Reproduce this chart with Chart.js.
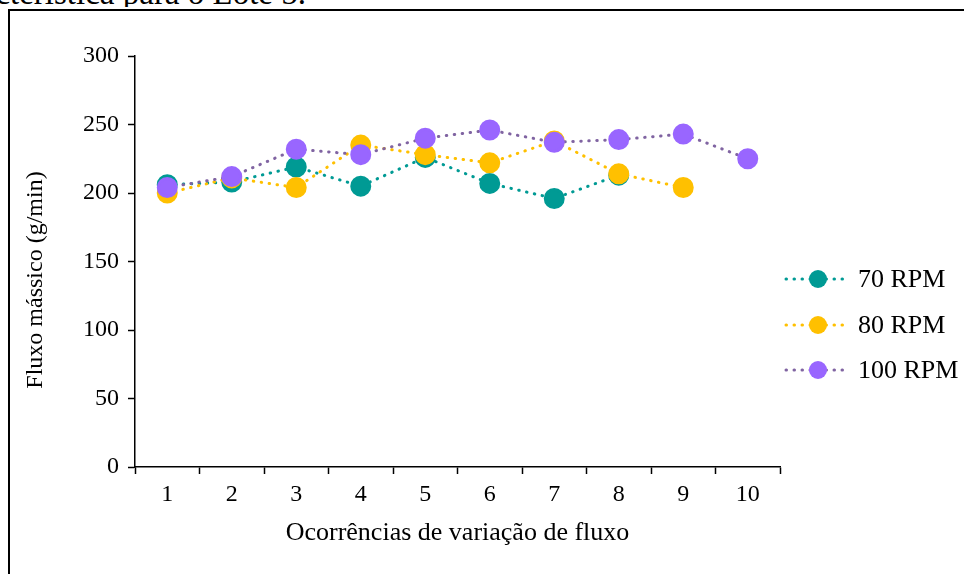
<!DOCTYPE html>
<html>
<head>
<meta charset="utf-8">
<script src="https://cdn.jsdelivr.net/npm/chart.js@4/dist/chart.umd.min.js"></script>
<style>
  html, body { margin: 0; padding: 0; background: #fff; overflow: hidden; }
  #wrap { position: relative; width: 964px; height: 574px; }
  #frame { position: absolute; left: 8px; top: 9px; width: 2000px; height: 2000px;
           border-left: 2px solid #000; border-top: 2px solid #000; }
  #caption { position: absolute; left: 0; top: -21px; width: 306px; overflow: hidden;
             white-space: nowrap; text-align: right; direction: rtl;
             font-family: "Liberation Serif", "Times New Roman", serif; font-size: 33px; line-height: 28px; color: #000; }
  #caption span { direction: ltr; unicode-bidi: embed; }
  canvas { position: absolute; left: 0; top: 0; }
</style>
</head>
<body>
<div id="wrap">
  <div id="caption"><span>Curva característica para o Lote 5.</span></div>
  <div id="frame"></div>
  <canvas id="c" width="964" height="574"></canvas>
</div>
<script>
const categories = ['1','2','3','4','5','6','7','8','9','10'];
const seriesNames = ['70 RPM', '80 RPM', '100 RPM'];
const rpm70 = [206, 208, 219, 205, 226, 207, 196, 213];
const rpm80 = [200, 211, 204, 235, 228, 222, 238, 214, 204];
const rpm100 = [204, 212, 232, 228, 240, 246, 237, 239, 243, 225];
const yTicks = [0, 50, 100, 150, 200, 250, 300];
const xTitle = 'Ocorrências de variação de fluxo';
const yTitle = 'Fluxo mássico (g/min)';

const lineColors = ['#009A94', '#FFC000', '#8064A2'];
const pointColors = ['#009A94', '#FFC000', '#9966FF'];
const FONT = '"Liberation Serif", "Times New Roman", serif';

const legendPlugin = {
  id: 'sideLegend',
  afterDraw(chart) {
    const ctx = chart.ctx;
    const ys = [279, 325, 370];
    chart.data.datasets.forEach((ds, i) => {
      const y = ys[i];
      ctx.save();
      ctx.strokeStyle = ds.borderColor;
      ctx.lineWidth = 3;
      ctx.lineCap = 'round';
      ctx.setLineDash([0.5, 7.5]);
      ctx.beginPath();
      ctx.moveTo(786, y);
      ctx.lineTo(850, y);
      ctx.stroke();
      ctx.setLineDash([]);
      ctx.fillStyle = ds.pointBackgroundColor;
      ctx.beginPath();
      ctx.arc(818, y, 9, 0, Math.PI * 2);
      ctx.fill();
      ctx.fillStyle = '#000';
      ctx.font = '26px ' + FONT;
      ctx.textBaseline = 'middle';
      ctx.textAlign = 'left';
      ctx.fillText(ds.label, 858, y + 1);
      ctx.restore();
    });
    // vertical axis title
    ctx.save();
    ctx.translate(36, 280);
    ctx.rotate(-Math.PI / 2);
    ctx.fillStyle = '#000';
    ctx.font = '24px ' + FONT;
    ctx.textAlign = 'center';
    ctx.textBaseline = 'middle';
    ctx.fillText(yTitle, 0, 0);
    ctx.restore();
  }
};

function makeDs(label, data, i) {
  return {
    label: label,
    data: data,
    borderColor: lineColors[i],
    backgroundColor: pointColors[i],
    pointBackgroundColor: pointColors[i],
    pointBorderColor: pointColors[i],
    pointRadius: 9,
    pointHoverRadius: 9,
    borderWidth: 3,
    borderDash: [0.5, 7.5],
    borderCapStyle: 'round',
    tension: 0,
    fill: false,
    order: 3 - i
  };
}

new Chart(document.getElementById('c'), {
  type: 'line',
  data: {
    labels: categories,
    datasets: [
      makeDs(seriesNames[0], rpm70, 0),
      makeDs(seriesNames[1], rpm80, 1),
      makeDs(seriesNames[2], rpm100, 2)
    ]
  },
  options: {
    responsive: false,
    animation: false,
    events: [],
    layout: { padding: { left: 18, top: 56, right: 184, bottom: 21 } },
    plugins: { legend: { display: false }, tooltip: { enabled: false } },
    scales: {
      x: {
        type: 'category',
        offset: true,
        afterFit(s) { s.height = 86; },
        grid: { display: true, offset: true, drawOnChartArea: false, drawTicks: true,
                tickLength: 7, tickWidth: 1.5, tickColor: '#000' },
        border: { display: true, color: '#000', width: 1.5 },
        ticks: { color: '#000', font: { family: FONT, size: 24 }, padding: 6, maxRotation: 0 },
        title: { display: true, text: xTitle, color: '#000',
                 font: { family: FONT, size: 26 }, padding: { top: 4, bottom: 4 } }
      },
      y: {
        min: 0, max: 300,
        afterFit(s) { s.width = 117; },
        afterBuildTicks(s) { s.ticks = yTicks.map(v => ({ value: v })); },
        grid: { display: true, drawOnChartArea: false, drawTicks: true,
                tickLength: 7, tickWidth: 1.5, tickColor: '#000' },
        border: { display: true, color: '#000', width: 1.5 },
        ticks: { color: '#000', font: { family: FONT, size: 24 }, padding: 9 },
        title: { display: false }
      }
    }
  },
  plugins: [legendPlugin]
});
</script>
</body>
</html>
